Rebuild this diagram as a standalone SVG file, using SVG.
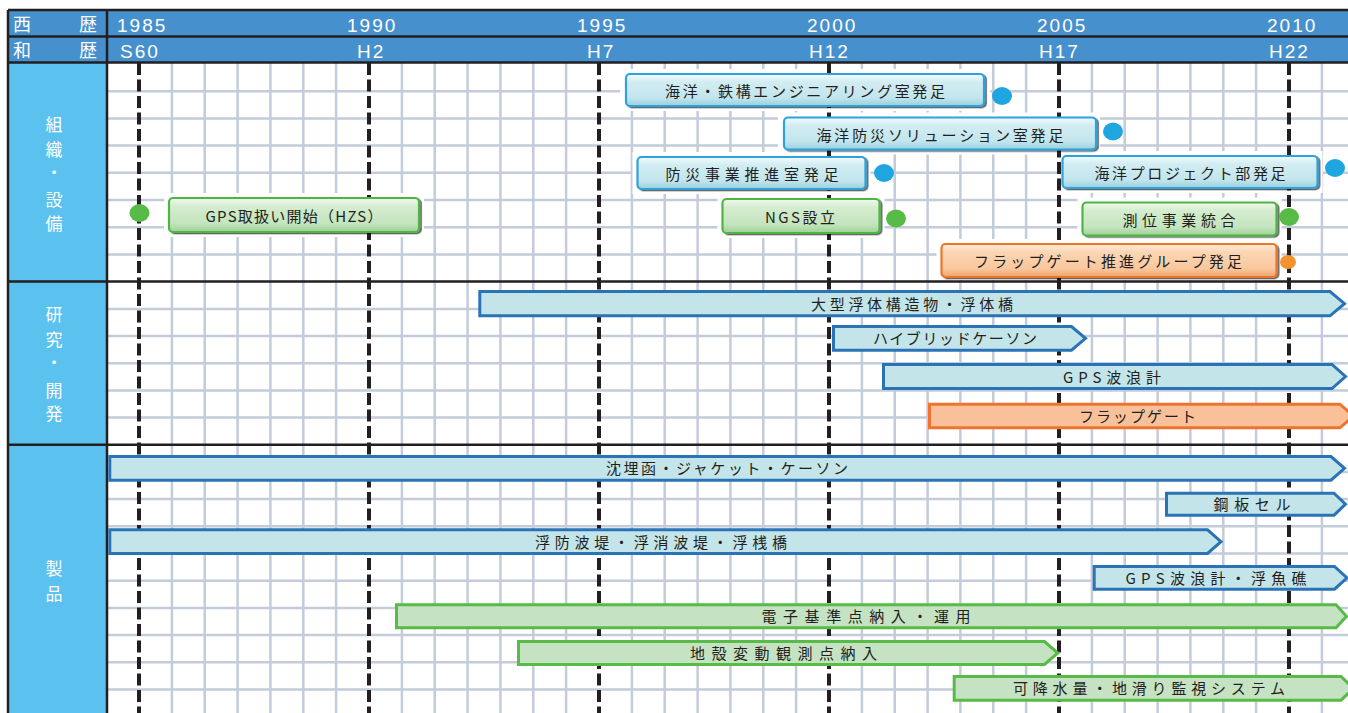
<svg xmlns="http://www.w3.org/2000/svg" width="1348" height="713" viewBox="0 0 1348 713">
<style>
.hdr{font-family:"Liberation Sans",Arial,sans-serif;font-size:19px;fill:#fff;letter-spacing:2px}
.hj{font-family:"Noto Sans CJK JP","Noto Sans",sans-serif;font-size:18px;fill:#fff}
.lab{font-family:"Noto Sans CJK JP","Noto Sans",sans-serif;font-size:17px;fill:#fff;text-anchor:middle}
.t{font-family:"Noto Sans CJK JP","Noto Sans",sans-serif;font-size:15px;fill:#231f20;text-anchor:middle}
.grid{stroke:#c4cbd9;stroke-width:2.5;fill:none}
.blk{stroke:#231f20;stroke-width:2.5;fill:none}
.dash{stroke:#231f20;stroke-width:4;stroke-dasharray:12 4.5;fill:none}
.pad{fill:#fff}
.bc{fill:url(#gc);stroke:#2ea2dc;stroke-width:2.2;filter:url(#sh)}
.bg{fill:url(#gg);stroke:#4db543;stroke-width:2.2;filter:url(#sh)}
.bo{fill:url(#go);stroke:#ec7628;stroke-width:2.2;filter:url(#sh)}
.dc{fill:#1fa6e0}.dg{fill:#58bb47}.do{fill:#f3922e}
.ac{fill:#c3e5ea;stroke:#2b73b7;stroke-width:3}
.ag{fill:#c5e3c2;stroke:#58bb47;stroke-width:3}
.ao{fill:#f9c199;stroke:#f07330;stroke-width:3}
</style>
<defs>
<linearGradient id="gc" x1="0" y1="0" x2="0" y2="1"><stop offset="0" stop-color="#f2fbfd"/><stop offset="0.25" stop-color="#d2edf2"/><stop offset="0.75" stop-color="#c2e5ed"/><stop offset="1" stop-color="#98cfdd"/></linearGradient>
<linearGradient id="gg" x1="0" y1="0" x2="0" y2="1"><stop offset="0" stop-color="#f1f9ef"/><stop offset="0.25" stop-color="#d4edcf"/><stop offset="0.75" stop-color="#c4e4be"/><stop offset="1" stop-color="#9dd194"/></linearGradient>
<linearGradient id="go" x1="0" y1="0" x2="0" y2="1"><stop offset="0" stop-color="#fdeada"/><stop offset="0.25" stop-color="#fbd6b3"/><stop offset="0.75" stop-color="#f9c79d"/><stop offset="1" stop-color="#eea46a"/></linearGradient>
<filter id="sh" x="-5%" y="-20%" width="110%" height="140%"><feDropShadow dx="1.8" dy="1.3" stdDeviation="0.7" flood-color="#000" flood-opacity="0.6"/></filter>
</defs>
<rect width="1348" height="713" fill="#fff"/>
<g id="frame">
<rect x="8" y="10" width="1340" height="53" fill="#4690cd"/>
<rect x="8" y="63" width="99" height="650" fill="#5bc2ef"/>
<path class="grid" d="M171.9 63V713M204.7 63V713M237.6 63V713M270.4 63V713M303.3 63V713M336.1 63V713M401.9 63V713M434.7 63V713M467.6 63V713M500.4 63V713M533.3 63V713M566.1 63V713M631.9 63V713M664.7 63V713M697.6 63V713M730.4 63V713M763.3 63V713M796.1 63V713M861.9 63V713M894.7 63V713M927.6 63V713M960.4 63V713M993.3 63V713M1026.1 63V713M1091.9 63V713M1124.7 63V713M1157.6 63V713M1190.4 63V713M1223.3 63V713M1256.1 63V713M1321.9 63V713"/>
<path class="grid" d="M107 91.2H1348M107 118.4H1348M107 145.6H1348M107 172.8H1348M107 200H1348M107 227.2H1348M107 254.4H1348M107 308.9H1348M107 336H1348M107 363.2H1348M107 390.4H1348M107 417.5H1348M107 471.9H1348M107 499.1H1348M107 526.3H1348M107 553.5H1348M107 580.7H1348M107 607.9H1348M107 635.1H1348M107 662.3H1348M107 689.5H1348"/>
</g>
<g id="pads">
<rect class="pad" x="620" y="69" width="370" height="42"/>
<rect class="pad" x="778" y="112.5" width="322" height="42"/>
<rect class="pad" x="632.5" y="152" width="238" height="42"/>
<rect class="pad" x="1057.5" y="151" width="265" height="42"/>
<rect class="pad" x="164" y="193" width="260" height="44"/>
<rect class="pad" x="717.5" y="194" width="167" height="44"/>
<rect class="pad" x="1077.5" y="197.5" width="204" height="43"/>
<rect class="pad" x="936.5" y="239" width="345" height="41"/>
</g>
<g id="year-lines">
<path class="dash" d="M139 63V713M369 63V713M599 63V713M829 63V713M1059 63V713M1289 63V713"/>
</g>
<g id="borders">
<path class="blk" d="M8 10H1348M8 36.5H1348M8 62.5H1348M8 281.5H1348M8 444.7H1348M8 10V713M107 10V713"/>
</g>
<g id="header">
<text class="hj" x="13" y="31">西</text><text class="hj" x="79" y="31">歴</text>
<text class="hj" x="13" y="57">和</text><text class="hj" x="79" y="57">歴</text>
<text class="hdr" x="117" y="32">1985</text>
<text class="hdr" x="347" y="32">1990</text>
<text class="hdr" x="577" y="32">1995</text>
<text class="hdr" x="807" y="32">2000</text>
<text class="hdr" x="1037" y="32">2005</text>
<text class="hdr" x="1267" y="32">2010</text>
<text class="hdr" x="120" y="58">S60</text>
<text class="hdr" x="357" y="58">H2</text>
<text class="hdr" x="587" y="58">H7</text>
<text class="hdr" x="809" y="58">H12</text>
<text class="hdr" x="1039" y="58">H17</text>
<text class="hdr" x="1269" y="58">H22</text>
</g>
<g id="section-labels">
<text class="lab"><tspan x="54" y="131">組</tspan><tspan x="54" y="156">織</tspan><tspan x="54" y="179">・</tspan><tspan x="54" y="206">設</tspan><tspan x="54" y="230">備</tspan></text>
<text class="lab"><tspan x="54" y="321">研</tspan><tspan x="54" y="346">究</tspan><tspan x="54" y="369">・</tspan><tspan x="54" y="397">開</tspan><tspan x="54" y="419.5">発</tspan></text>
<text class="lab"><tspan x="54" y="575">製</tspan><tspan x="54" y="600">品</tspan></text>
</g>
<g id="n1"><rect class="bc" x="626" y="74" width="358" height="32" rx="4"/><text class="t" x="805" y="97" textLength="280" lengthAdjust="spacing">海洋・鉄構エンジニアリング室発足</text><ellipse class="dc" cx="1002" cy="96" rx="10" ry="9"/></g>
<g id="n2"><rect class="bc" x="784" y="117.5" width="312" height="32" rx="4"/><text class="t" x="940" y="140.5" textLength="247" lengthAdjust="spacing">海洋防災ソリューション室発足</text><ellipse class="dc" cx="1113" cy="131.5" rx="10" ry="9"/></g>
<g id="n3"><rect class="bc" x="637.5" y="157" width="228" height="32" rx="4"/><text class="t" x="752" y="180" textLength="173" lengthAdjust="spacing">防災事業推進室発足</text><ellipse class="dc" cx="884" cy="173" rx="10" ry="9"/></g>
<g id="n4"><rect class="bc" x="1062.5" y="156" width="255" height="32" rx="4"/><text class="t" x="1190" y="179" textLength="191" lengthAdjust="spacing">海洋プロジェクト部発足</text><ellipse class="dc" cx="1335" cy="168" rx="10" ry="9"/></g>
<g id="n5"><rect class="bg" x="169" y="198" width="250" height="34" rx="4"/><text class="t" x="294" y="221.5" textLength="177" lengthAdjust="spacing">GPS取扱い開始（HZS）</text><ellipse class="dg" cx="139.5" cy="213" rx="10" ry="9"/></g>
<g id="n6"><rect class="bg" x="722.5" y="199" width="157" height="34" rx="4"/><text class="t" x="800" y="222.5" textLength="70" lengthAdjust="spacing">NGS設立</text><ellipse class="dg" cx="896" cy="218.5" rx="10" ry="9"/></g>
<g id="n7"><rect class="bg" x="1082.5" y="202.5" width="194" height="33" rx="4"/><text class="t" x="1179" y="225.5" textLength="113" lengthAdjust="spacing">測位事業統合</text><ellipse class="dg" cx="1289" cy="217" rx="10" ry="9"/></g>
<g id="n8"><rect class="bo" x="941.5" y="244" width="335" height="33" rx="4"/><text class="t" x="1108" y="267" textLength="268" lengthAdjust="spacing">フラップゲート推進グループ発足</text><ellipse class="do" cx="1288" cy="262" rx="8" ry="7"/></g>
<g id="b1"><path class="ac" d="M479.8 291.5H1330L1344.5 303.65L1330 315.8H479.8Z"/><text class="t" x="912" y="309.5" textLength="202" lengthAdjust="spacing">大型浮体構造物・浮体橋</text></g>
<g id="b2"><path class="ac" d="M833.5 326.5H1071.5L1085.5 338.35L1071.5 350.2H833.5Z"/><text class="t" x="955" y="344" textLength="164" lengthAdjust="spacing">ハイブリッドケーソン</text></g>
<g id="b3"><path class="ac" d="M883.5 364.5H1332L1345.5 376.5L1332 388.5H883.5Z"/><text class="t" x="1112" y="382.5" textLength="98" lengthAdjust="spacing">GPS波浪計</text></g>
<g id="b4"><path class="ao" d="M929.5 404.2H1340L1353.5 416L1340 427.8H929.5Z"/><text class="t" x="1137.5" y="422" textLength="117" lengthAdjust="spacing">フラップゲート</text></g>
<g id="b5"><path class="ac" d="M109.8 456.5H1331L1344.5 468.35L1331 480.2H109.8Z"/><text class="t" x="727" y="474" textLength="242" lengthAdjust="spacing">沈埋函・ジャケット・ケーソン</text></g>
<g id="b6"><path class="ac" d="M1166.5 493.2H1334L1345.5 504.2L1334 515.2H1166.5Z"/><text class="t" x="1252" y="510" textLength="77" lengthAdjust="spacing">鋼板セル</text></g>
<g id="b7"><path class="ac" d="M109.8 529.8H1207.5L1221 541.65L1207.5 553.5H109.8Z"/><text class="t" x="661" y="547.5" textLength="252" lengthAdjust="spacing">浮防波堤・浮消波堤・浮桟橋</text></g>
<g id="b8"><path class="ac" d="M1094.2 566.5H1334.5L1347 577.85L1334.5 589.2H1094.2Z"/><text class="t" x="1216" y="583.5" textLength="181" lengthAdjust="spacing">GPS波浪計・浮魚礁</text></g>
<g id="b9"><path class="ag" d="M396.5 604.8H1336L1346.5 616.3L1336 627.8H396.5Z"/><text class="t" x="866" y="622" textLength="209" lengthAdjust="spacing">電子基準点納入・運用</text></g>
<g id="b10"><path class="ag" d="M518.5 641.5H1044.5L1057.8 653L1044.5 664.5H518.5Z"/><text class="t" x="783.5" y="659" textLength="187" lengthAdjust="spacing">地殻変動観測点納入</text></g>
<g id="b11"><path class="ag" d="M954.2 676.5H1341L1353.5 688.35L1341 700.2H954.2Z"/><text class="t" x="1149" y="694" textLength="272" lengthAdjust="spacing">可降水量・地滑り監視システム</text></g>
</svg>
